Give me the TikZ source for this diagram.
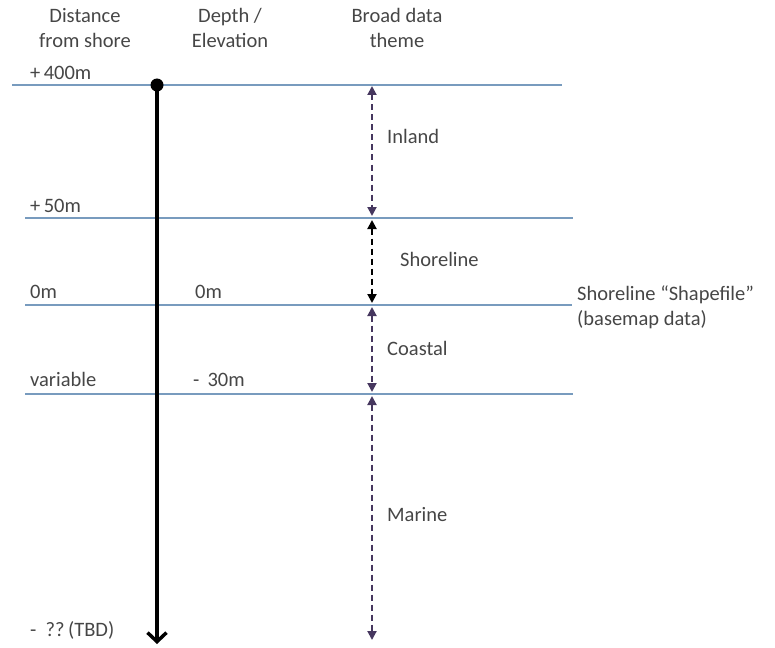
\documentclass[tikz,border=0pt]{standalone}
\usepackage{fontspec}
\setmainfont{Carlito}
\usepackage{tikz}
\usetikzlibrary{calc, arrows.meta, positioning}
\definecolor{niveau}{RGB}{120,155,190}
\definecolor{themepurple}{RGB}{70,55,95}
\definecolor{txtgray}{RGB}{70,70,70}
\tikzset{
	lbl/.style={anchor=base west, inner sep=0pt, text=txtgray, font=\fontsize{20.5}{25}\selectfont},
	head/.style={align=center, inner sep=0pt, text=txtgray, font=\fontsize{20.5}{25}\selectfont},
	levelline/.style={niveau, line width=1.4pt},
	themearrow/.style={themepurple, line width=2pt, dash pattern=on 6pt off 4pt, arrows={Triangle[length=9pt,width=9pt,fill=themepurple]-Triangle[length=9pt,width=9pt,fill=themepurple]}},
}

\begin{document}
\begin{tikzpicture}[x=1pt, y=-1pt]
	\useasboundingbox (0,0) rectangle (775,647);
	
	%Encabezados
	\node[head] (hdist) at (85,28) {Distance\\from shore};
	\node[head] (hdepth) at (230,28) {Depth /\\Elevation};
	\node[head] (htheme) at (397,28) {Broad data\\theme};
	
	%Niveles
	\coordinate (l400w) at (12,85);   \coordinate (l400e) at (562,85);
	\coordinate (l50w) at (25,218);   \coordinate (l50e) at (573,218);
	\coordinate (l0w) at (25,305);    \coordinate (l0e) at (572,305);
	\coordinate (lvarw) at (25,394);  \coordinate (lvare) at (573,394);
	\draw[levelline] (l400w) -- (l400e);
	\draw[levelline] (l50w) -- (l50e);
	\draw[levelline] (l0w) -- (l0e);
	\draw[levelline] (lvarw) -- (lvare);
	
	\node[lbl] (d400) at (30,80) {+\,400m};
	\node[lbl] (d50) at (30,212) {+\,50m};
	\node[lbl] (d0) at (30,298) {0m};
	\node[lbl] (e0) at (195,298) {0m};
	\node[lbl] (dvar) at (30,386) {variable};
	\node[lbl] (e30) at (193,386) {-\ \,30m};
	\node[lbl] (dtbd) at (30,636) {-\ \ ??\,(TBD)};
	\node[lbl, align=left, anchor=north west] (shp) at (577,286) {Shoreline \char"201CShapefile\char"201D\\(basemap data)};
	
	%Eje distancia
	\coordinate (atop) at (157,85);
	\coordinate (abot) at (157,644);
	\fill (atop) circle (6.5pt);
	\draw[line width=4pt, arrows={-Straight Barb[length=9pt, width=19pt, line width=3.5pt]}] (atop) -- (abot);
	
	%Temas
	\coordinate (t400) at (372,86);
	\coordinate (t50a) at (372,216);
	\coordinate (t50b) at (372,220);
	\coordinate (t0a) at (372,303);
	\coordinate (t0b) at (372,307);
	\coordinate (tvara) at (372,392);
	\coordinate (tvarb) at (372,396);
	\coordinate (tend) at (372,640);
	\draw[themearrow] (t400) -- (t50a);
	\draw[themearrow, black, arrows={Triangle[length=9pt,width=9pt,fill=black]-Triangle[length=9pt,width=9pt,fill=black]}] (t50b) -- (t0a);
	\draw[themearrow] (t0b) -- (tvara);
	\draw[themearrow] (tvarb) -- (tend);
	
	\node[lbl] (inland) at (387,144) {Inland};
	\node[lbl] (shore) at (400,266) {Shoreline};
	\node[lbl] (coast) at (387,355) {Coastal};
	\node[lbl] (marine) at (387,521) {Marine};
\end{tikzpicture}
\end{document}
